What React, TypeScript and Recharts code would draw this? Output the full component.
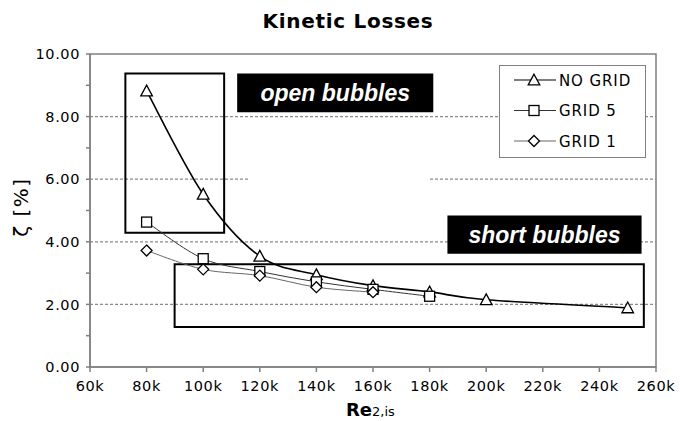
import React from "react";
import {
  LineChart, Line, XAxis, YAxis, CartesianGrid, ReferenceArea, Legend,
} from "recharts";

// Re2,is values and loss coefficients
const reynolds = [80000, 100000, 120000, 140000, 160000, 180000, 200000, 250000];
const noGrid = [8.82, 5.52, 3.54, 2.95, 2.6, 2.4, 2.15, 1.89];
const grid5 = [4.63, 3.46, 3.05, 2.72, 2.48, 2.26, null, null];
const grid1 = [3.72, 3.12, 2.92, 2.55, 2.39, null, null, null];

const xTicks = [60000, 80000, 100000, 120000, 140000, 160000, 180000, 200000, 220000, 240000, 260000];
const yTicks = [0, 1, 2, 3, 4, 5, 6, 7, 8, 9, 10];
const gridLines = [2, 4, 6, 8];

const data = reynolds.map((re, i) => ({ re, noGrid: noGrid[i], grid5: grid5[i], grid1: grid1[i] }));

const FONT = "'DejaVu Sans', Verdana, sans-serif";
const AXIS = "#808080";

// spreadsheet-style smoothing (bezier through the points, tangents from neighbours)
const smoothCurve = (context: any) => {
  let pts: number[][] = [];
  return {
    areaStart() {},
    areaEnd() {},
    lineStart() { pts = []; },
    point(x: number, y: number) { pts.push([+x, +y]); },
    lineEnd() {
      if (!pts.length) return;
      context.moveTo(pts[0][0], pts[0][1]);
      for (let i = 0; i < pts.length - 1; i++) {
        const p0 = pts[i - 1] || pts[i];
        const p1 = pts[i];
        const p2 = pts[i + 1];
        const p3 = pts[i + 2] || p2;
        context.bezierCurveTo(
          p1[0] + (p2[0] - p0[0]) / 6, p1[1] + (p2[1] - p0[1]) / 6,
          p2[0] - (p3[0] - p1[0]) / 6, p2[1] - (p3[1] - p1[1]) / 6,
          p2[0], p2[1],
        );
      }
    },
  };
};

const triangle = (cx: number, cy: number, s = 5.8) =>
  `M${cx},${cy - s} L${cx + s},${cy + s * 0.85} L${cx - s},${cy + s * 0.85} Z`;

const Tri = (p: any) => {
  if (p.cx == null || p.cy == null) return <g key={p.index} />;
  return <path key={p.index} d={triangle(p.cx, p.cy)} fill="#fff" stroke="#000" strokeWidth={1.3} />;
};
const Sq = (p: any) => {
  if (p.cx == null || p.cy == null) return <g key={p.index} />;
  return <rect key={p.index} x={p.cx - 5} y={p.cy - 5} width={10} height={10} fill="#fff" stroke="#000" strokeWidth={1.3} />;
};
const Dia = (p: any) => {
  if (p.cx == null || p.cy == null) return <g key={p.index} />;
  const s = 5.5;
  return (
    <path key={p.index} d={`M${p.cx},${p.cy - s} L${p.cx + s},${p.cy} L${p.cx},${p.cy + s} L${p.cx - s},${p.cy} Z`}
      fill="#fff" stroke="#000" strokeWidth={1.3} />
  );
};

const series = [
  { key: "noGrid", name: "NO GRID", stroke: "#000", width: 1.6, dot: Tri },
  { key: "grid5", name: "GRID 5", stroke: "#333", width: 1, dot: Sq },
  { key: "grid1", name: "GRID 1", stroke: "#666", width: 1, dot: Dia },
];

const tag = (text: string) => (p: any) => {
  const vb = p.viewBox || {};
  return (
    <text x={vb.x + vb.width / 2} y={vb.y + vb.height / 2 + 8} textAnchor="middle" fill="#fff"
      fontFamily="'Liberation Sans', Arial, sans-serif" fontWeight="bold" fontStyle="italic" fontSize={23}>
      {text}
    </text>
  );
};

const LegendBox = () => (
  <div style={{ width: 147, height: 93, border: `1px solid ${AXIS}`, background: "#fff", boxSizing: "border-box" }}>
    <svg width={145} height={91}>
      {series.map((s, i) => {
        const y = 14 + i * 30.5;
        return (
          <g key={s.key}>
            <line x1={14} x2={56} y1={y} y2={y} stroke={s.stroke} strokeWidth={1.2} />
            {s.dot({ cx: 34, cy: y, index: i })}
            <text x={59} y={y + 5.5} fontFamily={FONT} fontSize={15} letterSpacing={0.9} fill="#000">{s.name}</text>
          </g>
        );
      })}
    </svg>
  </div>
);

const tickStyle = { fill: "#000", fontSize: 14.5, fontFamily: FONT, letterSpacing: 0.6 };

export default function App() {
  return (
    <div style={{ position: "absolute", left: 0, top: 0, width: 680, height: 421, background: "#fff" }}>
      <LineChart width={680} height={421} data={data} margin={{ top: 54, right: 24, left: 0, bottom: 24 }}>
        <CartesianGrid horizontal vertical={false} horizontalValues={gridLines} stroke="#8a8a8a" strokeDasharray="3 2" strokeWidth={1.3} />
        <XAxis dataKey="re" type="number" domain={[60000, 260000]} ticks={xTicks} height={30}
          tickFormatter={(v) => `${v / 1000}k`} stroke={AXIS} strokeWidth={1.5} tickSize={5} tickMargin={9}
          tick={tickStyle} interval={0} />
        <YAxis type="number" domain={[0, 10]} ticks={yTicks} width={90} interval={0}
          tickFormatter={(v) => (v % 2 === 0 ? v.toFixed(2) : "")} stroke={AXIS} strokeWidth={1.5}
          tickSize={4} tickMargin={6} tick={tickStyle} />
        {/* plot frame */}
        <ReferenceArea x1={60000} x2={260000} y1={0} y2={10} fill="none" stroke={AXIS} strokeWidth={1.5} />
        {/* white patch hiding part of the 6.00 gridline */}
        <ReferenceArea x1={116200} x2={179400} y1={5.8} y2={6.2} fill="#fff" fillOpacity={1} stroke="none" />
        <ReferenceArea x1={72500} x2={107400} y1={4.29} y2={9.38} fill="none" stroke="#000" strokeWidth={2} />
        <ReferenceArea x1={89900} x2={255700} y1={1.28} y2={3.28} fill="none" stroke="#000" strokeWidth={2} />
        <ReferenceArea x1={112000} x2={181300} y1={8.14} y2={9.38} fill="#000" fillOpacity={1} stroke="none"
          label={tag("open bubbles")} />
        <ReferenceArea x1={186300} x2={254900} y1={3.62} y2={4.84} fill="#000" fillOpacity={1} stroke="none"
          label={tag("short bubbles")} />
        {series.map((s) => (
          <Line key={s.key} dataKey={s.key} name={s.name} type={smoothCurve as any} stroke={s.stroke}
            strokeWidth={s.width} dot={s.dot} activeDot={false} isAnimationActive={false} />
        ))}
        <Legend layout="vertical" align="center" verticalAlign="middle" content={LegendBox}
          wrapperStyle={{ left: 499, top: 65, width: 147, height: 93 }} />
      </LineChart>
      <svg width={680} height={421} style={{ position: "absolute", left: 0, top: 0, pointerEvents: "none" }}>
        <text x={348} y={28} textAnchor="middle" fontFamily={FONT} fontWeight="bold" fontSize={20}
          letterSpacing={0.7} fill="#000">
          Kinetic Losses
        </text>
        <text x={28} y={207} transform="rotate(-90 28 207)" textAnchor="middle" fontFamily={FONT} fontSize={20}
          letterSpacing={1.5} fill="#000">
          ζ [%]
        </text>
        <text x={346} y={416} fontFamily={FONT} fill="#000">
          <tspan fontWeight="bold" fontSize={18}>Re</tspan>
          <tspan fontSize={13}>2,is</tspan>
        </text>
      </svg>
    </div>
  );
}
